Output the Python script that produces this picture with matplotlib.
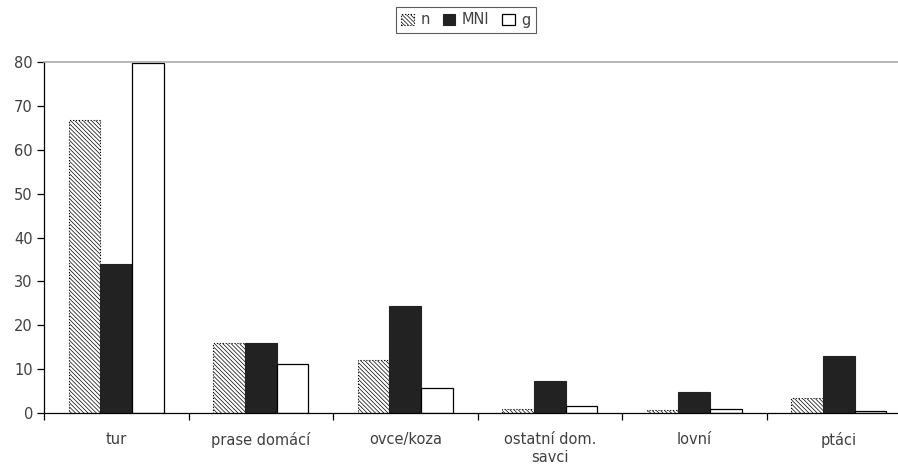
import matplotlib
matplotlib.use("Agg")
import matplotlib.pyplot as plt
import numpy as np

plt.rcParams["font.family"] = ["DejaVu Sans"]
plt.rcParams["hatch.linewidth"] = 0.5

categories = ["tur", "prase domácí", "ovce/koza", "ostatní dom.\nsavci", "lovní", "ptáci"]
series_names = ["n", "MNI", "g"]
n_vals = [66.7, 16.0, 12.0, 1.0, 0.6, 3.4]
mni_vals = [34.0, 16.0, 24.4, 7.4, 4.7, 13.1]
g_vals = [79.7, 11.2, 5.8, 1.6, 0.9, 0.5]

text_color = "#404040"

fig = plt.figure(figsize=(8.98, 4.68), dpi=100)
ax = fig.add_axes([44 / 898, 1 - 413 / 468, 867 / 898, 351 / 468])

x = np.arange(len(categories))
width = 0.22
styles = [
    dict(facecolor="white", hatch="\\\\\\\\\\\\\\\\", edgecolor="black", linestyle=":", linewidth=0.8),
    dict(facecolor="#222222", edgecolor="#222222", linewidth=0.8),
    dict(facecolor="white", edgecolor="black", linewidth=0.9),
]
handles = []
for i, (vals, st) in enumerate(zip([n_vals, mni_vals, g_vals], styles)):
    bars = ax.bar(x + (i - 1) * width, vals, width, label=series_names[i], zorder=2, **st)
    handles.append(bars)

ax.set_xlim(-0.5, len(categories) - 0.5)
ax.set_ylim(0, 80)
ax.set_yticks(np.arange(0, 81, 10))

# labels sit at the category centres, tick marks at the boundaries
ax.set_xticks(x)
ax.set_xticklabels(categories, linespacing=1.25)
ax.set_xticks(np.arange(-0.5, len(categories), 1.0), minor=True)
ax.tick_params(axis="x", which="major", length=0, pad=14, labelsize=10.5, labelcolor=text_color)
ax.tick_params(axis="x", which="minor", length=5, width=0.9, direction="out")
ax.tick_params(axis="y", length=5, width=0.9, direction="out", labelsize=10.5,
               labelcolor=text_color, pad=3)

ax.spines["right"].set_visible(False)
ax.spines["top"].set_color("#aaaaaa")
ax.spines["top"].set_linewidth(1.2)
for s in ("left", "bottom"):
    ax.spines[s].set_linewidth(0.9)

leg = fig.legend(handles=handles, labels=series_names, loc="center",
                 bbox_to_anchor=(466 / 898, 1 - 20 / 468), ncol=3, frameon=True,
                 fancybox=False, edgecolor="#333333", fontsize=10.5,
                 handlelength=0.85, handleheight=0.85, handletextpad=0.45,
                 columnspacing=0.9, borderpad=0.35, labelcolor=text_color)
leg.get_frame().set_linewidth(0.8)

fig.savefig("out.png", dpi=100)
